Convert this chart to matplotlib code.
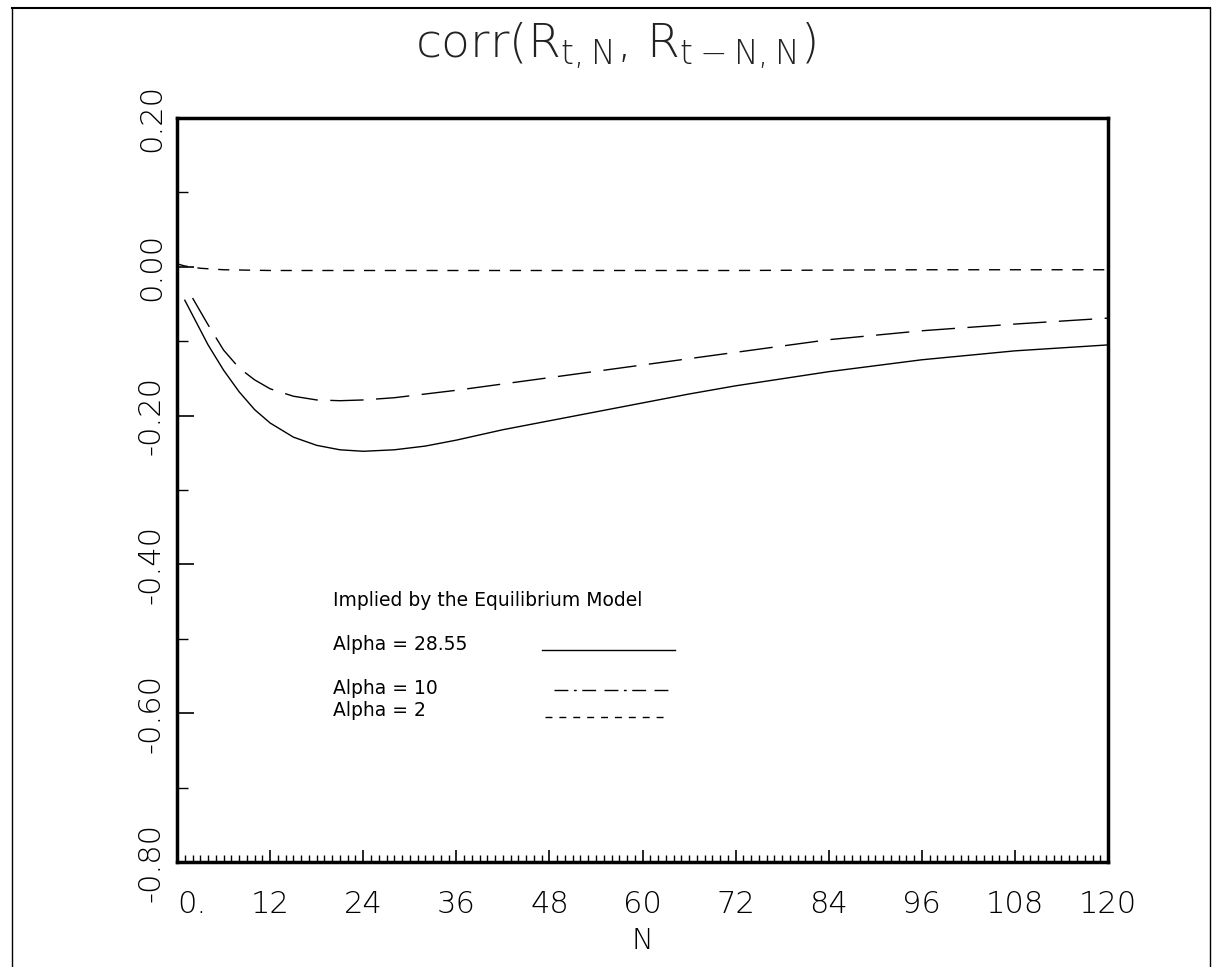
import numpy as np
import matplotlib.pyplot as plt
from matplotlib.lines import Line2D

# values
n_a28 = [1, 2, 4, 6, 8, 10, 12, 15, 18, 21, 24, 28, 32, 36, 42, 48, 54, 60, 66, 72, 84, 96, 108, 120]
corr_a28 = [-0.045, -0.065, -0.105, -0.139, -0.168, -0.192, -0.210, -0.229, -0.240, -0.246, -0.248,
            -0.246, -0.241, -0.233, -0.219, -0.207, -0.195, -0.183, -0.171, -0.160, -0.141, -0.125,
            -0.113, -0.105]

n_a10 = [2, 4, 6, 8, 10, 12, 15, 18, 21, 24, 28, 36, 48, 60, 72, 84, 96, 108, 120]
corr_a10 = [-0.042, -0.078, -0.112, -0.136, -0.152, -0.164, -0.174, -0.179, -0.180, -0.179, -0.176,
            -0.166, -0.149, -0.132, -0.115, -0.098, -0.086, -0.077, -0.069]

n_a2 = [0, 1, 3, 6, 12, 24, 48, 72, 96, 120]
corr_a2 = [0.004, 0.001, -0.002, -0.004, -0.005, -0.005, -0.005, -0.005, -0.004, -0.004]

xticks = [0, 12, 24, 36, 48, 60, 72, 84, 96, 108, 120]
xticklabels = ["0.", "12", "24", "36", "48", "60", "72", "84", "96", "108", "120"]
yticks = [0.20, 0.00, -0.20, -0.40, -0.60, -0.80]
yticklabels = ["0.20", "0.00", "-0.20", "-0.40", "-0.60", "-0.80"]

plt.rcParams['font.family'] = ['DejaVu Sans']
plt.rcParams['mathtext.fontset'] = 'custom'
plt.rcParams['mathtext.rm'] = 'DejaVu Sans:light'
plt.rcParams['mathtext.it'] = 'DejaVu Sans:light'

fig = plt.figure(figsize=(12.16, 9.67), dpi=100)
ax = fig.add_axes([0.1456, 0.1086, 0.7656, 0.7694])

ax.plot(n_a28, corr_a28, color="black", lw=1.0)
ax.plot(n_a10, corr_a10, color="black", lw=1.0, dashes=(24, 9))
ax.plot(n_a2, corr_a2, color="black", lw=1.0, dashes=(8, 7))

ax.set_xlim(0, 120)
ax.set_ylim(-0.80, 0.20)
for s in ax.spines.values():
    s.set_linewidth(2.5)

ax.set_xticks(xticks)
ax.set_xticklabels(xticklabels, fontsize=22, fontweight="light")
ax.set_xticks(np.arange(0, 121, 1), minor=True)
ax.set_yticks(yticks)
ax.set_yticklabels(yticklabels, fontsize=22, rotation=90, va="center", fontweight="light")
ax.set_yticks(np.arange(-0.8, 0.21, 0.1), minor=True)
ax.tick_params(axis="x", which="major", direction="in", length=9, width=1.2, pad=20)
ax.tick_params(axis="x", which="minor", direction="in", length=5, width=1.0)
ax.tick_params(axis="y", which="major", direction="in", length=12, width=1.2, pad=8)
ax.tick_params(axis="y", which="minor", direction="in", length=8, width=1.0)
ax.get_xticklabels()[0].set_horizontalalignment("left")
ax.set_xlabel("N", fontsize=21, fontweight="light", labelpad=6)

# legend drawn as text plus sample lines in axes coordinates
ax.text(0.168, 0.352, "Implied by the Equilibrium Model", transform=ax.transAxes, fontsize=13.5, va="center")
ax.text(0.168, 0.292, "Alpha = 28.55", transform=ax.transAxes, fontsize=13.5, va="center")
ax.text(0.168, 0.233, "Alpha = 10", transform=ax.transAxes, fontsize=13.5, va="center")
ax.text(0.168, 0.204, "Alpha = 2", transform=ax.transAxes, fontsize=13.5, va="center")
ax.add_line(Line2D([0.392, 0.535], [0.285, 0.285], transform=ax.transAxes, color="black", lw=1.0))
ax.add_line(Line2D([0.405, 0.530], [0.231, 0.231], transform=ax.transAxes, color="black", lw=1.0,
                   dashes=(10, 4, 2, 4, 10, 6)))
ax.add_line(Line2D([0.395, 0.530], [0.195, 0.195], transform=ax.transAxes, color="black", lw=1.0,
                   dashes=(5, 5)))

fig.text(0.506, 0.953, r"corr(R$_{\mathrm{t,N}}$, R$_{\mathrm{t-N,N}}$)", fontsize=34,
         ha="center", va="center", fontweight="light", color="#222222")

# page border of the scan
fig.add_artist(Line2D([12 / 1216, 12 / 1216], [0, 1 - 8 / 967], color="black", lw=1.0))
fig.add_artist(Line2D([12 / 1216, 1210 / 1216], [1 - 8 / 967, 1 - 8 / 967], color="black", lw=1.5))
fig.add_artist(Line2D([1210 / 1216, 1210 / 1216], [0, 1 - 8 / 967], color="black", lw=1.0))

fig.savefig("out.png", dpi=100)
